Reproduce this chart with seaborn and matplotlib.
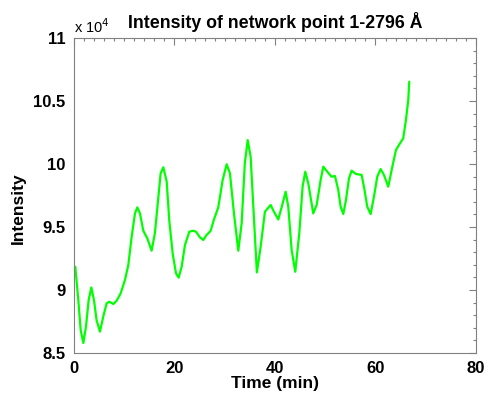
import matplotlib
matplotlib.use('Agg')
import matplotlib.pyplot as plt
from matplotlib.ticker import MultipleLocator, FormatStrFormatter
import seaborn as sns
import pandas as pd

# time (min) and intensity (in units of 1e4)
time_min = [
    0.26, 0.86, 1.33, 1.86, 2.39, 2.92, 3.45, 3.98, 4.5, 5.17,
    5.83, 6.5, 7.03, 7.83, 8.5, 9.29, 10.15, 10.81, 11.48, 12.14,
    12.6, 13.13, 13.8, 14.6, 15.45, 16.1, 16.8, 17.25, 17.78, 18.45,
    18.97, 19.64, 20.3, 20.83, 21.43, 22.09, 22.95, 23.74, 24.28, 25.07,
    25.73, 26.4, 27.2, 27.86, 28.72, 29.59, 30.39, 31.04, 31.84, 32.7,
    33.37, 34.0, 34.57, 35.16, 35.68, 36.4, 37.15, 38.0, 39.14, 39.8,
    40.66, 41.45, 42.13, 42.65, 43.32, 44.04, 44.84, 45.5, 46.03, 46.63,
    47.62, 48.3, 49.09, 49.62, 50.41, 51.28, 51.94, 52.6, 53.07, 53.6,
    54.13, 54.73, 55.26, 56.12, 57.25, 57.77, 58.37, 59.04, 59.7, 60.36,
    61.03, 61.69, 62.55, 63.22, 64.08, 64.88, 65.53, 66.07, 66.53, 66.73,
]
intensity_e4 = [
    9.185, 8.92, 8.683, 8.58, 8.71, 8.92, 9.02, 8.92, 8.76, 8.67,
    8.79, 8.894, 8.907, 8.889, 8.915, 8.974, 9.08, 9.198, 9.423, 9.608,
    9.656, 9.608, 9.47, 9.41, 9.312, 9.45, 9.74, 9.926, 9.974, 9.86,
    9.55, 9.29, 9.133, 9.098, 9.185, 9.357, 9.463, 9.47, 9.463, 9.418,
    9.397, 9.437, 9.47, 9.56, 9.656, 9.873, 9.998, 9.926, 9.608, 9.312,
    9.529, 10.005, 10.19, 10.058, 9.67, 9.14, 9.344, 9.621, 9.675, 9.621,
    9.56, 9.675, 9.78, 9.661, 9.317, 9.145, 9.45, 9.82, 9.939, 9.847,
    9.608, 9.675, 9.873, 9.979, 9.939, 9.899, 9.905, 9.794, 9.661, 9.603,
    9.714, 9.886, 9.947, 9.921, 9.913, 9.807, 9.661, 9.603, 9.74, 9.899,
    9.96, 9.913, 9.82, 9.952, 10.111, 10.164, 10.204, 10.35, 10.508, 10.653,
]

x_ticks = [0, 20, 40, 60, 80]
y_ticks = [8.5, 9, 9.5, 10, 10.5, 11]

df = pd.DataFrame({'Time (min)': time_min, 'Intensity': intensity_e4})

sns.set_theme(style='white')
plt.rcParams['font.family'] = ['Liberation Sans', 'DejaVu Sans']
plt.rcParams['text.color'] = 'black'
plt.rcParams['axes.labelcolor'] = 'black'
plt.rcParams['xtick.labelcolor'] = 'black'
plt.rcParams['ytick.labelcolor'] = 'black'

fig = plt.figure(figsize=(4.89, 4.03), dpi=100)
ax = fig.add_axes([0.1513, 0.124, 0.822, 0.7817])

sns.lineplot(data=df, x='Time (min)', y='Intensity', color='#00ff00',
             linewidth=1.6, ax=ax)

ax.set_xlim(0, 80)
ax.set_ylim(8.5, 11)
ax.set_xticks(x_ticks)
ax.set_yticks(y_ticks)
ax.xaxis.set_minor_locator(MultipleLocator(2))
ax.yaxis.set_minor_locator(MultipleLocator(0.1))
ax.yaxis.set_major_formatter(FormatStrFormatter('%g'))

ax.tick_params(which='both', direction='in', top=True, right=True,
               color='#808080', width=0.8, labelsize=12, pad=6,
               labelcolor='black')
ax.tick_params(which='major', length=5)
ax.tick_params(which='minor', length=2.5)
for lab in ax.get_xticklabels() + ax.get_yticklabels():
    lab.set_fontweight('bold')
for sp in ax.spines.values():
    sp.set_color('#808080')
    sp.set_linewidth(0.8)

ax.set_xlabel('Time (min)', fontsize=12.5, fontweight='bold', labelpad=0)
ax.set_ylabel('Intensity', fontsize=12.5, fontweight='bold')
ax.yaxis.set_label_coords(-0.12, 0.46)
ax.set_title('Intensity of network point 1-2796 \u00c5', fontsize=12.8,
             fontweight='bold', pad=7, color='black')
ax.text(0.0, 1.005, 'x 10$^4$', transform=ax.transAxes, fontsize=10.5,
        ha='left', va='bottom', color='black')

fig.savefig('out.png', dpi=100)
